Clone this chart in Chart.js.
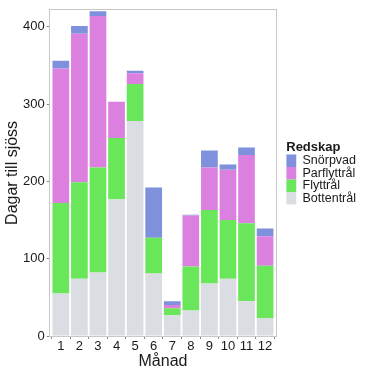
<!DOCTYPE html>
<html>
<head>
<meta charset="utf-8">
<script src="https://cdn.jsdelivr.net/npm/chart.js@4/dist/chart.umd.min.js"></script>
<style>
  html, body { margin: 0; padding: 0; background: #fff; }
  #wrap { width: 373px; height: 373px; }
</style>
</head>
<body>
<div id="wrap"><canvas id="chart"></canvas></div>
<script>
const months = [1, 2, 3, 4, 5, 6, 7, 8, 9, 10, 11, 12];
const bottentral = [55, 74, 82, 177, 278, 81, 27, 33, 68, 74, 45, 23];
const flyttral = [117, 125, 136, 79, 48, 46, 9, 57, 95, 76, 101, 68];
const parflyttral = [174, 192, 196, 47, 14, 0, 4, 66, 55, 65, 88, 38];
const snorpvad = [10, 10, 6, 0, 3, 65, 5, 1, 22, 7, 10, 10];
const yTicks = [0, 100, 200, 300, 400];

const textColor = "#1a1a1a";
const frameColor = "#c8c8c8";
const tickColor = "#8a8a8a";

const series = (label, data, color) => ({
  label,
  data,
  backgroundColor: color,
  borderWidth: 0,
  barPercentage: 0.9,
  categoryPercentage: 1
});

new Chart(document.getElementById("chart"), {
  type: "bar",
  data: {
    labels: months,
    datasets: [
      series("Bottentrål", bottentral, "#dadde1"),
      series("Flyttrål", flyttral, "#6ae65a"),
      series("Parflyttrål", parflyttral, "#dc80e0"),
      series("Snörpvad", snorpvad, "#7f91dc")
    ]
  },
  options: {
    responsive: true,
    maintainAspectRatio: false,
    animation: false,
    layout: { padding: { left: 1, top: 9, right: 7, bottom: 3 } },
    scales: {
      x: {
        type: "linear",
        stacked: true,
        min: 0.4,
        max: 12.6,
        offset: false,
        afterBuildTicks: (s) => { s.ticks = months.map((v) => ({ value: v })); },
        ticks: { color: textColor, font: { family: "Liberation Sans", size: 13, lineHeight: 1 }, padding: 1, maxRotation: 0 },
        grid: { display: true, drawOnChartArea: false, tickLength: 3, color: tickColor },
        border: { display: true, color: frameColor },
        title: { display: true, text: "Månad", color: textColor, font: { family: "Liberation Sans", size: 16, lineHeight: 1 }, padding: 0 }
      },
      y: {
        stacked: true,
        min: 0,
        max: 422,
        afterBuildTicks: (s) => { s.ticks = yTicks.map((v) => ({ value: v })); },
        ticks: { color: textColor, font: { family: "Liberation Sans", size: 13 }, padding: 2 },
        grid: { display: true, drawOnChartArea: false, tickLength: 3, color: tickColor },
        border: { display: true, color: frameColor },
        title: { display: true, text: "Dagar till sjöss", color: textColor, font: { family: "Liberation Sans", size: 16, lineHeight: 1 }, padding: { top: 4, bottom: 0 } }
      },
      x2: {
        type: "linear",
        position: "top",
        min: 0,
        max: 1,
        ticks: { display: false },
        grid: { drawOnChartArea: false, drawTicks: false },
        border: { display: true, color: frameColor }
      },
      y2: {
        type: "linear",
        position: "right",
        min: 0,
        max: 1,
        ticks: { display: false },
        grid: { drawOnChartArea: false, drawTicks: false },
        border: { display: true, color: frameColor },
        afterFit: (s) => { s.width = 10; }
      }
    },
    plugins: {
      legend: {
        position: "right",
        align: "center",
        fullSize: false,
        reverse: true,
        maxWidth: 100,
        title: {
          display: true,
          text: "Redskap",
          position: "start",
          color: textColor,
          font: { family: "Liberation Sans", size: 13, weight: "bold", lineHeight: 1 },
          padding: 0
        },
        labels: {
          color: textColor,
          font: { family: "Liberation Sans", size: 12.5 },
          boxWidth: 10,
          boxHeight: 12.5,
          padding: 0
        }
      },
      tooltip: { enabled: false }
    }
  }
});
</script>
</body>
</html>
